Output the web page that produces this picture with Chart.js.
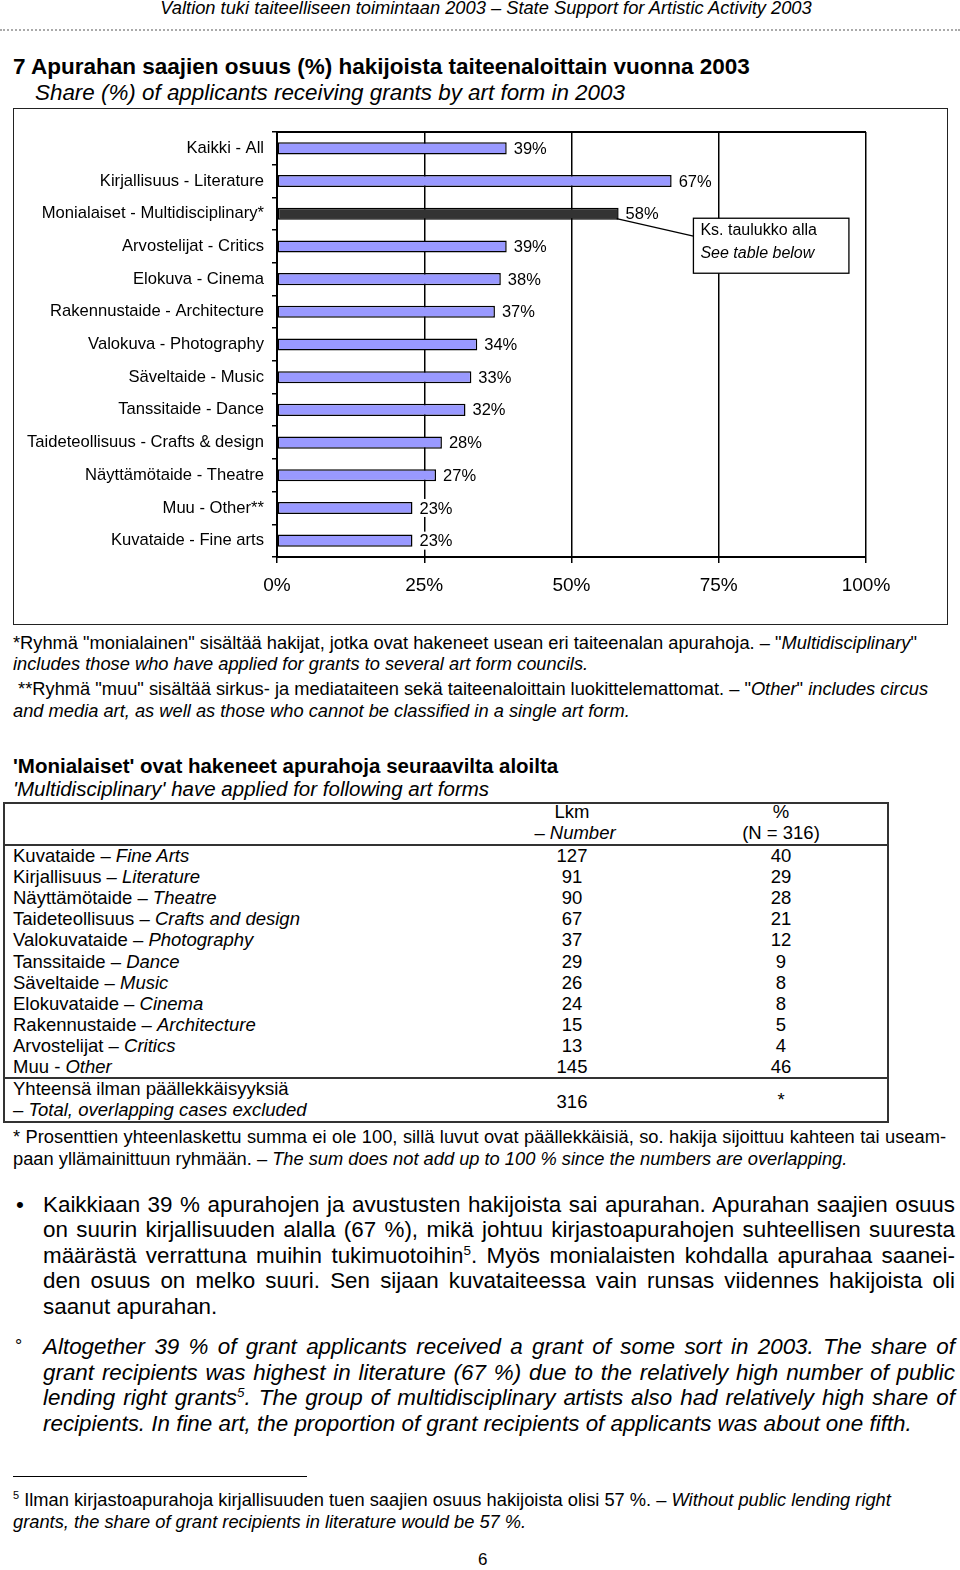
<!DOCTYPE html>
<html>
<head>
<meta charset="utf-8">
<script src="https://cdn.jsdelivr.net/npm/chart.js@4.4.0/dist/chart.umd.min.js"></script>
<style>
    body { margin: 0; background: #fff; font-family: 'Liberation Sans', Arial, sans-serif; color: #000; }
    #sivu { position: relative; width: 960px; height: 1570px; overflow: hidden; }
    .t { position: absolute; white-space: nowrap; line-height: 20px; font-size: 18.3px; }
    .j { text-align: justify; text-align-last: justify; }
    .iso { font-size: 22.4px; line-height: 26px; }
    sup { font-size: 60%; line-height: 0; vertical-align: 0.6em; }
    #laatikko { position: absolute; left: 13px; top: 108px; width: 935px; height: 517px; box-sizing: border-box; border: 1.5px solid #222; }
    #canvas-kaavio { position: absolute; left: 14px; top: 109px; }
    .viiva { position: absolute; background: #333; }
</style>
</head>
<body>
<div id="sivu">
    <div class="t" style="left:0; width:972px; text-align:center; top:-2px; font-size:18.3px; font-style:italic;">Valtion tuki taiteelliseen toimintaan 2003 – State Support for Artistic Activity 2003</div>
    <div style="position:absolute; left:0; top:29px; width:960px; border-top:2px dotted #aaa;"></div>

    <div class="t" style="left:13px; top:55px; font-size:22.5px; line-height:24px; font-weight:bold;">7 Apurahan saajien osuus (%) hakijoista taiteenaloittain vuonna 2003</div>
    <div class="t" style="left:35px; top:81px; font-size:22.4px; line-height:24px; font-style:italic;">Share (%) of applicants receiving grants by art form in 2003</div>

    <div id="laatikko"></div>
    <canvas id="canvas-kaavio" width="933" height="515" style="width:933px;height:515px;"></canvas>

    <div class="t" style="left:13px; top:633px;">*Ryhmä "monialainen" sisältää hakijat, jotka ovat hakeneet usean eri taiteenalan apurahoja. – "<i>Multidisciplinary</i>"</div>
    <div class="t" style="left:13px; top:654px;"><i>includes those who have applied for grants to several art form councils.</i></div>
    <div class="t" style="left:13px; top:679px;">&nbsp;**Ryhmä "muu" sisältää sirkus- ja mediataiteen sekä taiteenaloittain luokittelemattomat. – "<i>Other</i>" <i>includes circus</i></div>
    <div class="t" style="left:13px; top:701px;"><i>and media art, as well as those who cannot be classified in a single art form.</i></div>

    <div class="t" style="left:13px; top:754px; font-size:20.5px; line-height:24px; font-weight:bold;">'Monialaiset' ovat hakeneet apurahoja seuraavilta aloilta</div>
    <div class="t" style="left:13px; top:777px; font-size:20.5px; line-height:24px; font-style:italic;">'Multidisciplinary' have applied for following art forms</div>

    <div id="taulukko"></div>

    <div class="t j" style="left:13px; width:933px; top:1127px;">* Prosenttien yhteenlaskettu summa ei ole 100, sillä luvut ovat päällekkäisiä, so. hakija sijoittuu kahteen tai useam-</div>
    <div class="t" style="left:13px; top:1149px;">paan yllämainittuun ryhmään. – <i>The sum does not add up to 100 % since the numbers are overlapping.</i></div>

    <div class="t iso" style="left:16px; top:1192px;">•</div>
    <div class="t iso j" style="left:43px; width:912px; top:1192px;">Kaikkiaan 39 % apurahojen ja avustusten hakijoista sai apurahan. Apurahan saajien osuus</div>
    <div class="t iso j" style="left:43px; width:912px; top:1217px;">on suurin kirjallisuuden alalla (67 %), mikä johtuu kirjastoapurahojen suhteellisen suuresta</div>
    <div class="t iso j" style="left:43px; width:912px; top:1243px;">määrästä verrattuna muihin tukimuotoihin<sup>5</sup>. Myös monialaisten kohdalla apurahaa saanei-</div>
    <div class="t iso j" style="left:43px; width:912px; top:1268px;">den osuus on melko suuri. Sen sijaan kuvataiteessa vain runsas viidennes hakijoista oli</div>
    <div class="t iso" style="left:43px; top:1294px;">saanut apurahan.</div>

    <div class="t iso" style="left:15px; top:1333px; font-size:18px;">°</div>
    <div class="t iso j" style="left:43px; width:912px; top:1334px; font-style:italic;">Altogether 39 % of grant applicants received a grant of some sort in 2003. The share of</div>
    <div class="t iso j" style="left:43px; width:912px; top:1360px; font-style:italic;">grant recipients was highest in literature (67 %) due to the relatively high number of public</div>
    <div class="t iso j" style="left:43px; width:912px; top:1385px; font-style:italic;">lending right grants<sup>5</sup>. The group of multidisciplinary artists also had relatively high share of</div>
    <div class="t iso" style="left:43px; top:1411px; font-style:italic;">recipients. In fine art, the proportion of grant recipients of applicants was about one fifth.</div>

    <div class="viiva" style="left:13px; top:1476px; width:294px; height:1px; background:#000;"></div>
    <div class="t" style="left:13px; top:1490px;"><sup>5</sup> Ilman kirjastoapurahoja kirjallisuuden tuen saajien osuus hakijoista olisi 57 %. – <i>Without public lending right</i></div>
    <div class="t" style="left:13px; top:1512px;"><i>grants, the share of grant recipients in literature would be 57 %.</i></div>
    <div class="t" style="left:478px; top:1550px; font-size:17px;">6</div>
</div>

<script>
'use strict';

/* global Chart */

// Kaavion tiedot
const kategoriat = ['Kaikki - All', 'Kirjallisuus - Literature', 'Monialaiset - Multidisciplinary*',
    'Arvostelijat - Critics', 'Elokuva - Cinema', 'Rakennustaide - Architecture', 'Valokuva - Photography',
    'Säveltaide - Music', 'Tanssitaide - Dance', 'Taideteollisuus - Crafts & design',
    'Näyttämötaide - Theatre', 'Muu - Other**', 'Kuvataide - Fine arts'];
const osuudet = [39, 67, 58, 39, 38, 37, 34, 33, 32, 28, 27, 23, 23];
const xArvot = [0, 25, 50, 75, 100];
const xTekstit = ['0%', '25%', '50%', '75%', '100%'];
const korostettu = 'Monialaiset - Multidisciplinary*';
const huomautus = ['Ks. taulukko alla', 'See table below'];

// Taulukon tiedot
const taulukkoSuomi = ['Kuvataide', 'Kirjallisuus', 'Näyttämötaide', 'Taideteollisuus', 'Valokuvataide',
    'Tanssitaide', 'Säveltaide', 'Elokuvataide', 'Rakennustaide', 'Arvostelijat', 'Muu '];
const taulukkoEnglanti = ['Fine Arts', 'Literature', 'Theatre', 'Crafts and design', 'Photography',
    'Dance', 'Music', 'Cinema', 'Architecture', 'Critics', 'Other'];
const taulukkoLkm = [127, 91, 90, 67, 37, 29, 26, 24, 15, 13, 145];
const taulukkoPros = [40, 29, 28, 21, 12, 9, 8, 8, 5, 4, 46];

const fontti = "'Liberation Sans', Arial, sans-serif";

document.addEventListener('DOMContentLoaded', function () {
    // Taulukko
    const taulu = document.getElementById('taulukko');
    let html = '';
    const viiva = (x, y, w, h) => '<div class="viiva" style="left:' + x + 'px;top:' + y + 'px;width:' + w + 'px;height:' + h + 'px;"></div>';
    html += viiva(3, 802, 886, 1.5) + viiva(3, 844, 886, 2) + viiva(3, 1077, 886, 1.5) + viiva(3, 1121, 886, 1.5);
    html += viiva(3, 802, 1.5, 320) + viiva(887, 802, 1.5, 320);
    const solu = (x, yc, teksti, keskitys) => '<div class="t" style="' + (keskitys ? 'left:' + (x - 100) + 'px;width:200px;text-align:center;' : 'left:' + x + 'px;') + 'top:' + (yc - 10) + 'px;font-size:18.5px;">' + teksti + '</div>';
    html += solu(572, 812, 'Lkm', true) + solu(575, 833, '– <i>Number</i>', true);
    html += solu(781, 812, '%', true) + solu(781, 833, '(N = 316)', true);
    taulukkoSuomi.forEach((nimi, i) => {
        const yc = 856 + i * 21.1;
        const erotin = nimi === 'Muu ' ? ' - ' : ' – ';
        html += solu(13, yc, nimi + erotin + '<i>' + taulukkoEnglanti[i] + '</i>', false);
        html += solu(572, yc, taulukkoLkm[i], true) + solu(781, yc, taulukkoPros[i], true);
    });
    html += solu(13, 1089, 'Yhteensä ilman päällekkäisyyksiä', false);
    html += solu(13, 1110, '– <i>Total, overlapping cases excluded</i>', false);
    html += solu(572, 1102, '316', true) + solu(781, 1100, '*', true);
    taulu.innerHTML = html;

    // Pylväiden arvot ja huomautuslaatikko
    const arvoPlugin = {
        id: 'arvot',
        afterDatasetsDraw(chart) {
            const c = chart.ctx;
            const alue = chart.chartArea;
            // yläreuna
            c.save();
            c.strokeStyle = '#000';
            c.lineWidth = 2;
            c.beginPath();
            c.moveTo(alue.left, alue.top);
            c.lineTo(alue.right, alue.top);
            c.stroke();

            const meta = chart.getDatasetMeta(0);
            c.font = '16.5px ' + fontti;
            c.textBaseline = 'middle';
            meta.data.forEach((bar, i) => {
                const teksti = osuudet[i] + '%';
                const x = bar.x + 7;
                const w = c.measureText(teksti).width;
                c.fillStyle = '#fff';
                c.fillRect(x - 1, bar.y - 9, w + 2, 18);
                c.fillStyle = '#000';
                c.fillText(teksti, x, bar.y + 1);
            });

            // Ks. taulukko alla
            const kBar = meta.data[kategoriat.indexOf(korostettu)];
            const xs = chart.scales.x;
            const l = xs.getPixelForValue(70.7);
            const r = xs.getPixelForValue(97.1);
            const t = kBar.y + 4.5;
            c.strokeStyle = '#000';
            c.lineWidth = 1.3;
            c.beginPath();
            c.moveTo(kBar.x - 2, kBar.y + 5);
            c.lineTo(l, t + 18);
            c.stroke();
            c.fillStyle = '#fff';
            c.fillRect(l, t, r - l, 55);
            c.strokeRect(l, t, r - l, 55);
            c.fillStyle = '#000';
            c.font = '16px ' + fontti;
            c.fillText(huomautus[0], l + 7, t + 12);
            c.font = 'italic 16px ' + fontti;
            c.fillText(huomautus[1], l + 7, t + 35);
            c.restore();
        }
    };

    const ctx = document.getElementById('canvas-kaavio').getContext('2d');
    // eslint-disable-next-line no-unused-vars
    let kaavio = new Chart(ctx, {
        type: 'bar',
        data: {
            labels: kategoriat,
            datasets: [{
                data: osuudet,
                backgroundColor: (c) => kategoriat[c.index] === korostettu ? '#333333' : '#9999ff',
                borderColor: '#000',
                borderWidth: 1.5,
                borderSkipped: false,
                barPercentage: 0.37,
                categoryPercentage: 1
            }]
        },
        options: {
            indexAxis: 'y',
            responsive: false,
            animation: false,
            layout: { padding: { top: 23, right: 81, left: 0, bottom: 0 } },
            plugins: { legend: { display: false }, tooltip: { enabled: false } },
            scales: {
                x: {
                    min: 0,
                    max: 100,
                    afterBuildTicks: (s) => { s.ticks = xArvot.map(v => ({ value: v })); },
                    afterFit: (s) => { s.height = 67; },
                    ticks: {
                        callback: (v, i) => xTekstit[i],
                        color: '#000',
                        font: { family: fontti, size: 19 },
                        padding: 11,
                        maxRotation: 0
                    },
                    grid: { color: '#000', lineWidth: 1.5, tickLength: 6 },
                    border: { color: '#000', width: 2 }
                },
                y: {
                    afterFit: (s) => { s.width = 263; },
                    ticks: { color: '#000', font: { family: fontti, size: 16.6 }, padding: 8, autoSkip: false },
                    grid: { drawOnChartArea: false, color: '#000', lineWidth: 1.5, tickLength: 5, offset: true },
                    border: { color: '#000', width: 2 }
                }
            }
        },
        plugins: [arvoPlugin]
    });
});
</script>
</body>
</html>
